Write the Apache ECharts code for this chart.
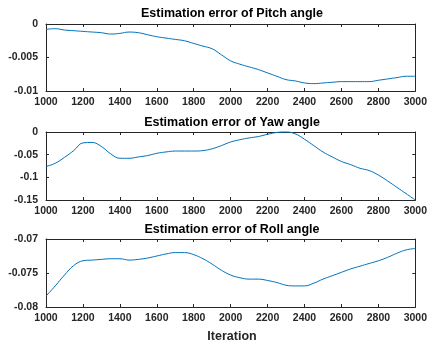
<!DOCTYPE html>
<html>
<head>
<meta charset="utf-8">
<script src="https://cdn.jsdelivr.net/npm/echarts@6/dist/echarts.min.js"></script>
<style>html,body{margin:0;padding:0;background:#fff}#c{width:430px;height:345px}</style>
</head>
<body>
<div id="c"></div>
<script>
// Iteration samples shared by all three panels
const iterations = [1000,1050,1100,1150,1200,1250,1300,1350,1400,1450,1500,1550,1600,1650,1700,1750,1800,1850,1900,1950,2000,2050,2100,2150,2200,2250,2300,2350,2400,2450,2500,2550,2600,2650,2700,2750,2800,2850,2900,2950,3000];

const pitchError = [-0.0008,-0.0007,-0.0009,-0.0010,-0.0011,-0.0012,-0.0013,-0.0015,-0.0014,-0.0012,-0.0013,-0.0016,-0.0019,-0.0021,-0.0023,-0.0025,-0.0029,-0.0033,-0.0037,-0.0046,-0.0055,-0.0060,-0.0064,-0.0068,-0.0073,-0.0078,-0.0083,-0.0085,-0.0088,-0.0089,-0.0088,-0.0087,-0.0086,-0.0086,-0.0086,-0.0086,-0.0084,-0.0082,-0.0080,-0.0078,-0.0078];

const yawError = [-0.076,-0.069,-0.056,-0.041,-0.024,-0.023,-0.032,-0.048,-0.058,-0.058,-0.055,-0.052,-0.047,-0.044,-0.042,-0.042,-0.042,-0.041,-0.037,-0.030,-0.022,-0.017,-0.013,-0.010,-0.005,-0.001,0.000,-0.004,-0.016,-0.030,-0.044,-0.055,-0.065,-0.072,-0.080,-0.085,-0.095,-0.108,-0.122,-0.136,-0.150];

const rollError = [-0.0784,-0.0769,-0.0753,-0.0739,-0.0732,-0.0731,-0.0730,-0.0729,-0.0729,-0.0731,-0.0730,-0.0728,-0.0725,-0.0722,-0.0720,-0.0720,-0.0723,-0.0729,-0.0737,-0.0746,-0.0753,-0.0757,-0.0759,-0.0759,-0.0761,-0.0764,-0.0768,-0.0769,-0.0769,-0.0765,-0.0759,-0.0754,-0.0749,-0.0744,-0.0740,-0.0736,-0.0732,-0.0727,-0.0721,-0.0716,-0.0714];

const panelTitles = ['Estimation error of Pitch angle','Estimation error of Yaw angle','Estimation error of Roll angle'];
const yRanges = [
  {min: -0.01, max: 0, interval: 0.005},
  {min: -0.15, max: 0, interval: 0.05},
  {min: -0.08, max: -0.07, interval: 0.005}
];
const seriesData = [pitchError, yawError, rollError];

const ink = '#262626';
const family = 'Liberation Sans, Arial, sans-serif';
const font = {fontFamily: family, fontWeight: 'bold', fontSize: 10.5, color: ink};
const grids = [
  {left: 46, right: 13, top: 24, height: 67},
  {left: 46, right: 13, top: 132, height: 68},
  {left: 46, right: 13, top: 239, height: 68}
];
const titleTops = [7, 116, 223];

const xAxes = [], yAxes = [], series = [], titles = [];
grids.forEach((g, i) => {
  const lineStyle = {color: ink, width: 1};
  // bottom axis with labels, top axis as the box edge
  xAxes.push({type: 'value', gridIndex: i, min: 1000, max: 3000, interval: 200, position: 'bottom',
    axisLine: {show: true, onZero: false, lineStyle}, axisTick: {show: true, inside: true, length: 3, lineStyle},
    axisLabel: Object.assign({margin: 6, formatter: v => String(v)}, font), splitLine: {show: false}});
  xAxes.push({type: 'value', gridIndex: i, min: 1000, max: 3000, interval: 200, position: 'top',
    axisLine: {show: true, onZero: false, lineStyle}, axisTick: {show: true, inside: true, length: 3, lineStyle},
    axisLabel: {show: false}, splitLine: {show: false}});
  const r = yRanges[i];
  yAxes.push({type: 'value', gridIndex: i, min: r.min, max: r.max, interval: r.interval, position: 'left',
    axisLine: {show: true, onZero: false, lineStyle}, axisTick: {show: true, inside: true, length: 3, lineStyle},
    axisLabel: Object.assign({margin: 8, formatter: v => String(+v.toFixed(4))}, font), splitLine: {show: false}});
  yAxes.push({type: 'value', gridIndex: i, min: r.min, max: r.max, interval: r.interval, position: 'right',
    axisLine: {show: true, onZero: false, lineStyle}, axisTick: {show: true, inside: true, length: 3, lineStyle},
    axisLabel: {show: false}, splitLine: {show: false}});
  series.push({type: 'line', xAxisIndex: i * 2, yAxisIndex: i * 2, smooth: 0.4, symbol: 'none', clip: false,
    data: iterations.map((x, k) => [x, seriesData[i][k]]),
    lineStyle: {color: '#0072BD', width: 1}});
  titles.push({text: panelTitles[i], left: 232, textAlign: 'center', top: titleTops[i], padding: 0,
    textStyle: {fontFamily: family, fontWeight: 'bold', fontSize: 12.5, color: '#000'}});
});
titles.push({text: 'Iteration', left: 232, textAlign: 'center', top: 330, padding: 0,
  textStyle: {fontFamily: family, fontWeight: 'bold', fontSize: 12.5, color: ink}});

const chart = echarts.init(document.getElementById('c'), null, {renderer: 'canvas'});
chart.setOption({
  animation: false,
  backgroundColor: '#fff',
  title: titles,
  grid: grids,
  xAxis: xAxes,
  yAxis: yAxes,
  series: series
});
</script>
</body>
</html>
